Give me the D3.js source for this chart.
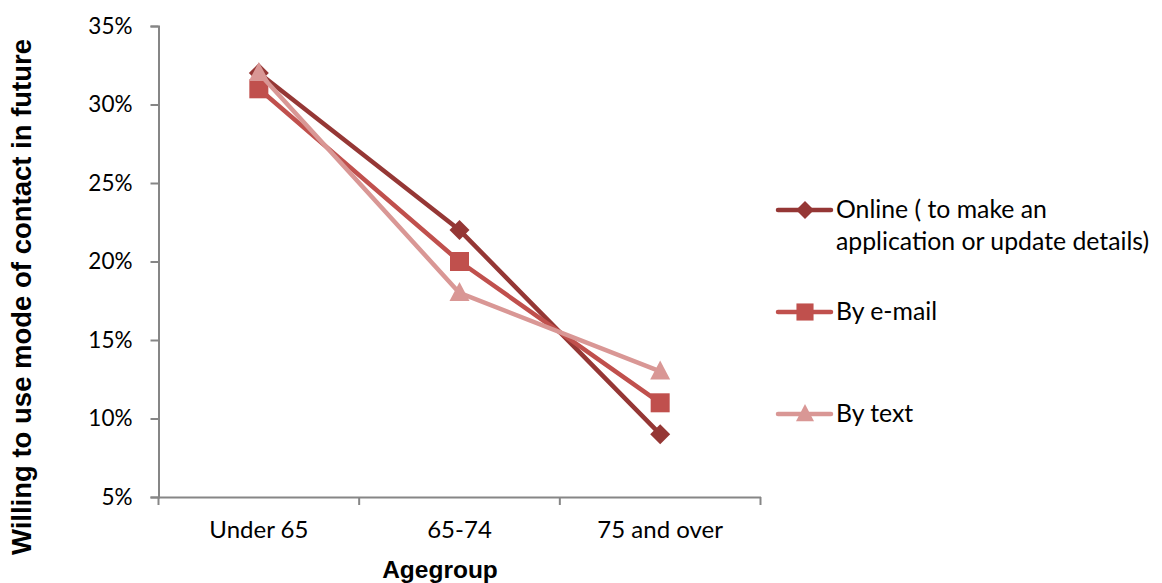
<!DOCTYPE html>
<html>
<head>
<meta charset="utf-8">
<script src="https://cdn.jsdelivr.net/npm/d3@7"></script>
<style>
  html, body { margin: 0; padding: 0; background: #fff; }
  svg { display: block; }
</style>
</head>
<body>
<svg id="chart" width="1162" height="583"></svg>
<script>
// Age groups and share willing to use each mode of contact (percent)
const categories = ["Under 65", "65-74", "75 and over"];
const online = [32, 22, 9];
const email = [31, 20, 11];
const text = [32, 18, 13];
const yTicks = [5, 10, 15, 20, 25, 30, 35];

const series = [
  { name: ["Online ( to make an", "application or update details)"], values: online, color: "#953735", shape: "diamond" },
  { name: ["By e-mail"], values: email, color: "#C0504D", shape: "square" },
  { name: ["By text"], values: text, color: "#D99795", shape: "triangle" }
];

const svg = d3.select("#chart");
const plotLeft = 158.5, plotRight = 760.5, plotTop = 26, plotBottom = 497;
const labelFont = "Lato, Carlito, Calibri, 'Open Sans', sans-serif";

const x = d3.scaleBand().domain(categories).range([plotLeft, plotRight]);
const y = d3.scaleLinear().domain([5, 35]).range([plotBottom, plotTop]);

// Y axis
const yAxis = svg.append("g").attr("transform", `translate(${plotLeft},0)`)
  .call(d3.axisLeft(y).tickValues(yTicks).tickFormat(d => d + "%").tickSize(8).tickPadding(18));
// X axis
const xAxis = svg.append("g").attr("transform", `translate(0,${plotBottom})`)
  .call(d3.axisBottom(x).tickSize(0).tickPadding(24));
// Category boundary ticks
svg.append("g").selectAll("line")
  .data(d3.range(categories.length + 1))
  .join("line")
  .attr("x1", i => plotLeft + i * x.step())
  .attr("x2", i => plotLeft + i * x.step())
  .attr("y1", plotBottom).attr("y2", plotBottom + 8)
  .attr("stroke", "#868686").attr("stroke-width", 2);

[[yAxis, 22.5], [xAxis, 24]].forEach(([a, size]) => {
  a.attr("font-family", labelFont).attr("font-size", size);
  a.select(".domain").attr("stroke", "#868686").attr("stroke-width", 2);
  a.selectAll(".tick line").attr("stroke", "#868686").attr("stroke-width", 2);
  a.selectAll(".tick text").attr("font-family", labelFont).attr("font-size", size).attr("fill", "#000");
});

// Axis titles
svg.append("text")
  .attr("x", 440).attr("y", 578)
  .attr("text-anchor", "middle")
  .attr("font-family", "'Liberation Sans', Arial, sans-serif")
  .attr("font-weight", "bold").attr("font-size", 24.5)
  .text("Agegroup");
svg.append("text")
  .attr("transform", "translate(31,297) rotate(-90)")
  .attr("text-anchor", "middle")
  .attr("font-family", "'Liberation Sans', Arial, sans-serif")
  .attr("font-weight", "bold").attr("font-size", 27.5)
  .text("Willing to use mode of contact in future");

function marker(g, shape, cx, cy, color, r) {
  if (shape === "diamond") {
    g.append("path").attr("d", `M${cx},${cy - r}L${cx + r},${cy}L${cx},${cy + r}L${cx - r},${cy}Z`).attr("fill", color);
  } else if (shape === "square") {
    const h = r * 0.95;
    g.append("rect").attr("x", cx - h).attr("y", cy - h).attr("width", 2 * h).attr("height", 2 * h).attr("fill", color);
  } else {
    g.append("path").attr("d", `M${cx},${cy - r * 1.1}L${cx + r},${cy + r * 0.8}L${cx - r},${cy + r * 0.8}Z`).attr("fill", color);
  }
}

const line = d3.line()
  .x((d, i) => x(categories[i]) + x.bandwidth() / 2)
  .y(d => y(d));

// Draw lines (last series on top)
series.forEach(s => {
  const g = svg.append("g");
  g.append("path").datum(s.values)
    .attr("d", line)
    .attr("fill", "none").attr("stroke", s.color).attr("stroke-width", 4.5)
    .attr("stroke-linejoin", "round");
  s.values.forEach((v, i) => marker(g, s.shape, x(categories[i]) + x.bandwidth() / 2, y(v), s.color, 10));
});

// Legend
const legendY = [210, 312, 414];
series.forEach((s, i) => {
  const g = svg.append("g");
  const ly = legendY[i];
  g.append("line").attr("x1", 778).attr("x2", 831).attr("y1", ly).attr("y2", ly)
    .attr("stroke", s.color).attr("stroke-width", 4.5).attr("stroke-linecap", "round");
  marker(g, s.shape, 805, ly, s.color, 9);
  s.name.forEach((t, j) => {
    g.append("text").attr("x", 836).attr("y", ly + 8 + j * 32)
      .attr("font-family", labelFont).attr("font-size", 24.8).attr("fill", "#000")
      .text(t);
  });
});
</script>
</body>
</html>
